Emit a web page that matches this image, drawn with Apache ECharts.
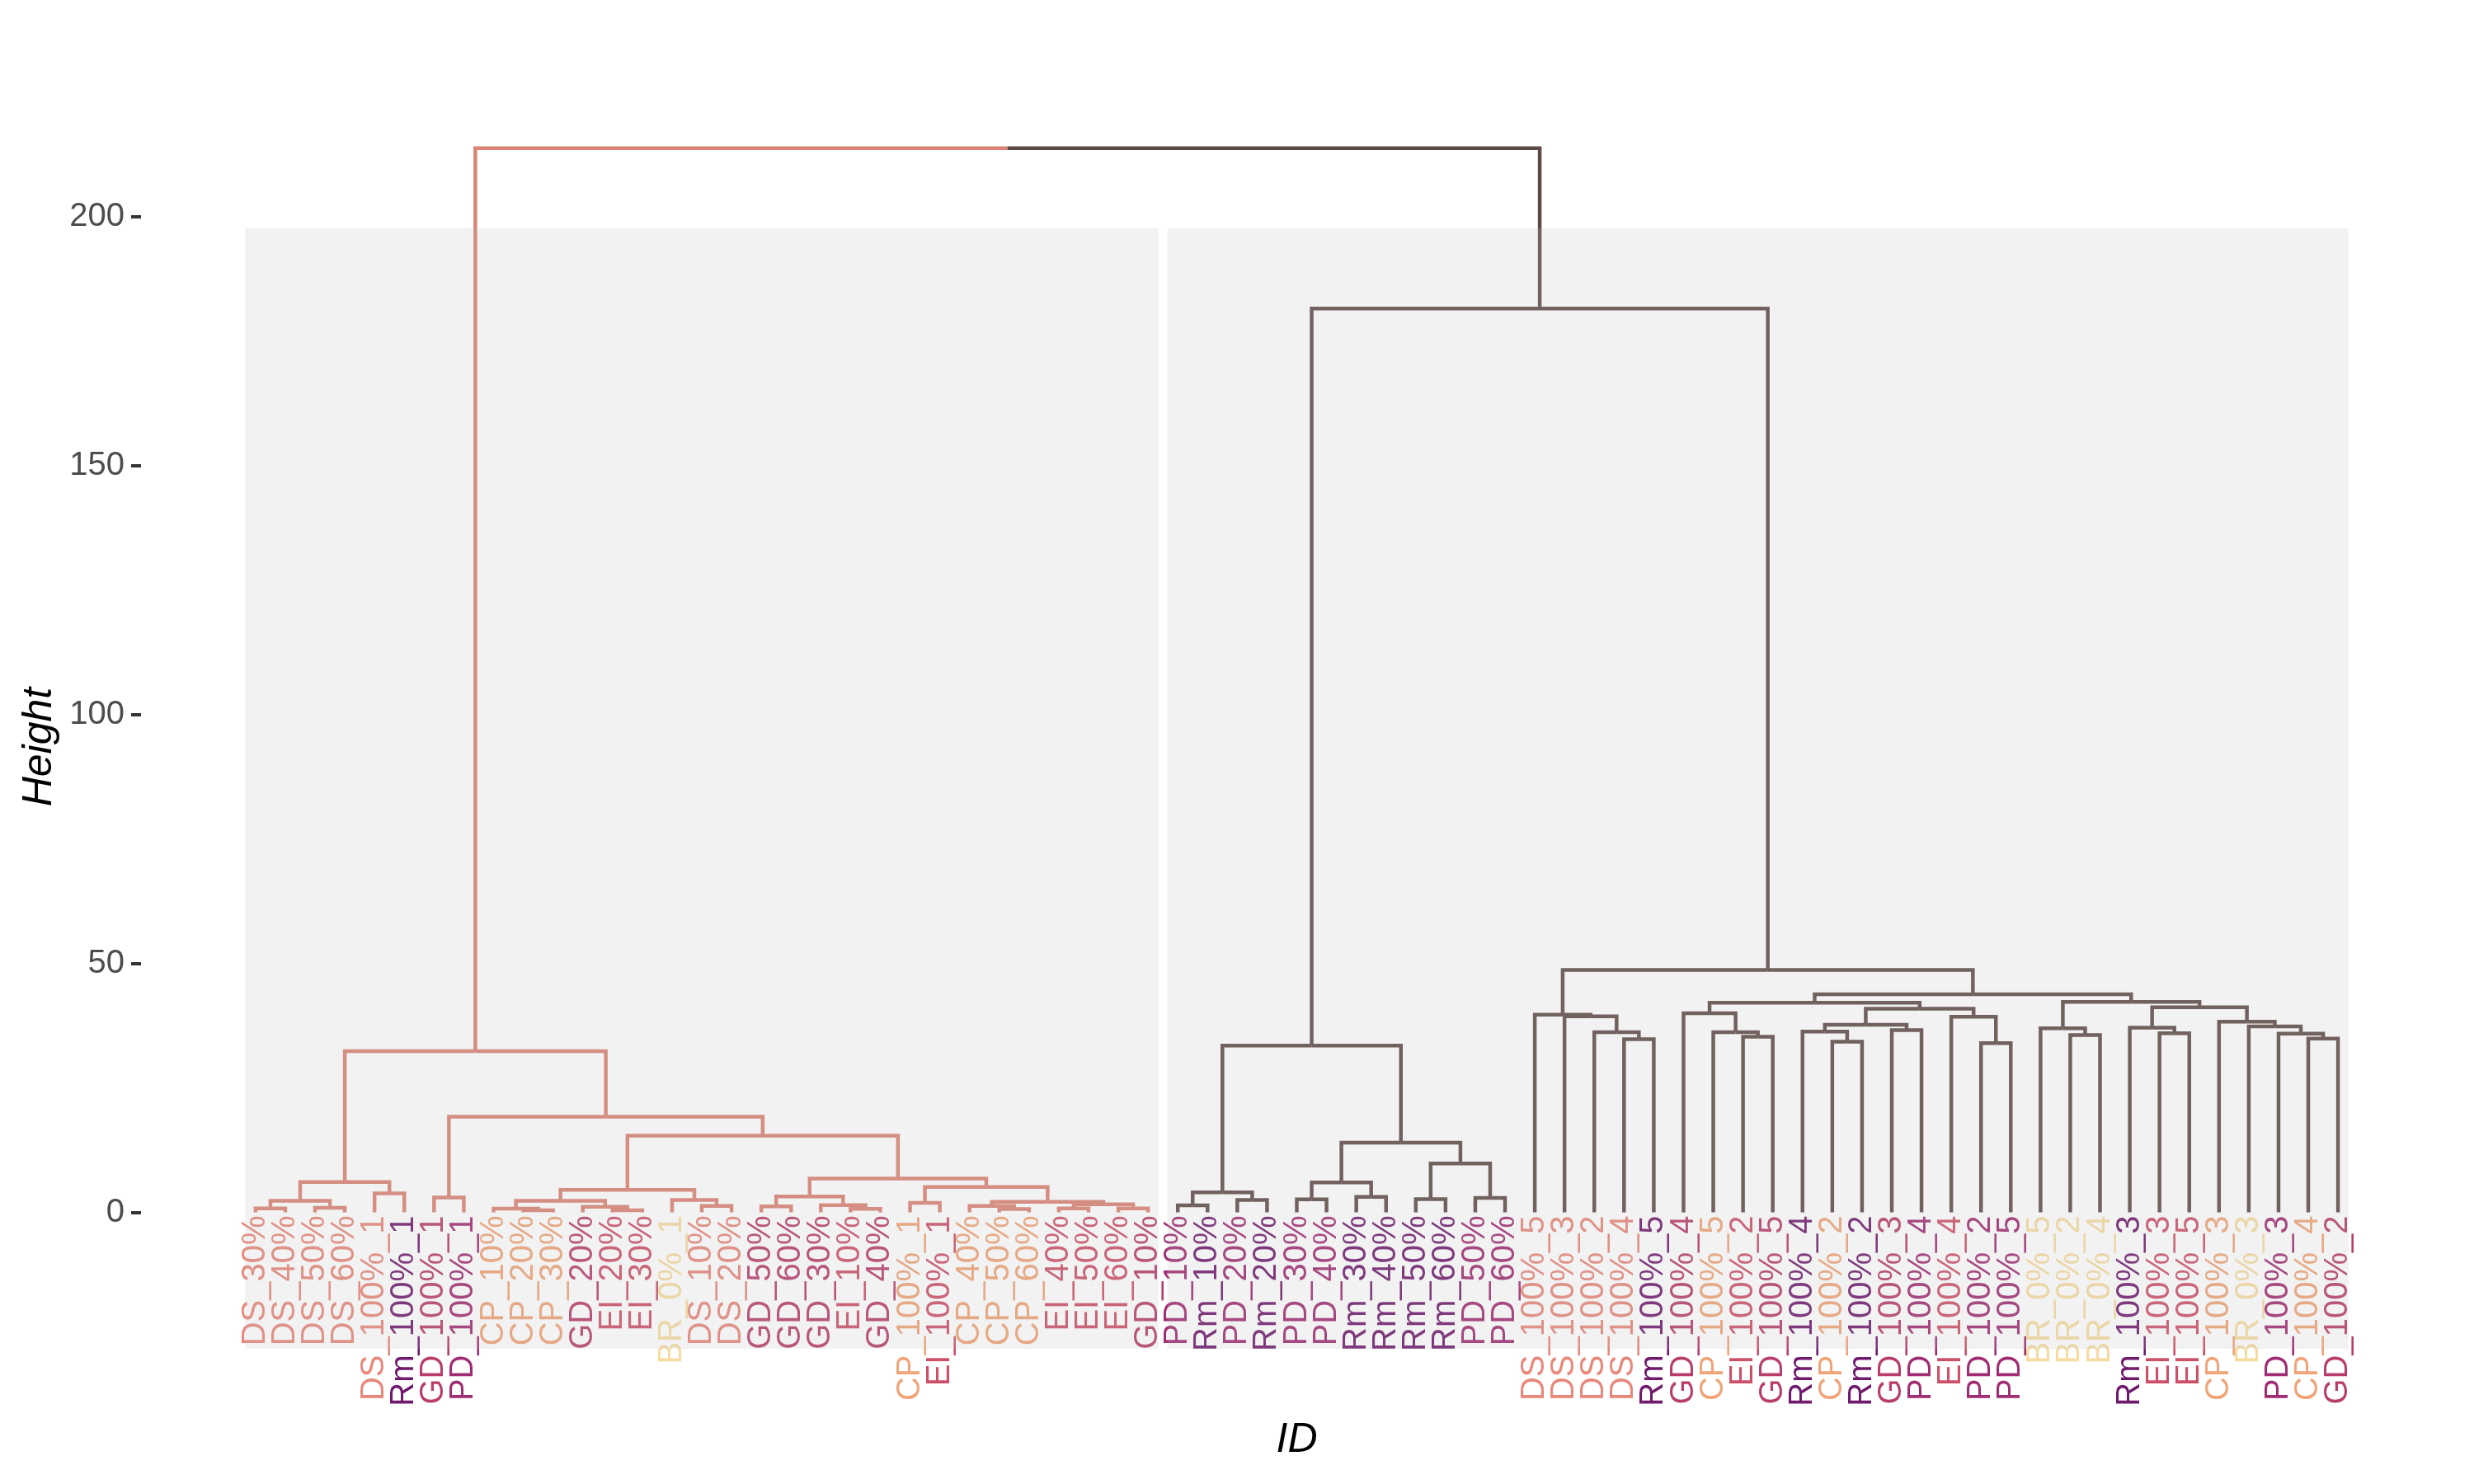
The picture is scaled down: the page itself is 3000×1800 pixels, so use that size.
<!DOCTYPE html>
<html><head><meta charset="utf-8">
<script src="https://cdn.jsdelivr.net/npm/echarts@6/dist/echarts.min.js"></script>
<style>html,body{margin:0;padding:0;background:#fff}#c{width:3000px;height:1800px}</style>
</head><body><div id="c"></div>
<script>
// ---- data ----
const leafLabels = [
'DS_30%','DS_40%','DS_50%','DS_60%','DS_100%_1','Rm_100%_1','GD_100%_1','PD_100%_1',
'CP_10%','CP_20%','CP_30%','GD_20%','EI_20%','EI_30%','BR_0%_1','DS_10%','DS_20%',
'GD_50%','GD_60%','GD_30%','EI_10%','GD_40%','CP_100%_1','EI_100%_1','CP_40%','CP_50%','CP_60%',
'EI_40%','EI_50%','EI_60%','GD_10%',
'PD_10%','Rm_10%','PD_20%','Rm_20%','PD_30%','PD_40%','Rm_30%','Rm_40%','Rm_50%','Rm_60%','PD_50%','PD_60%',
'DS_100%_5','DS_100%_3','DS_100%_2','DS_100%_4','Rm_100%_5','GD_100%_4','CP_100%_5','EI_100%_2','GD_100%_5',
'Rm_100%_4','CP_100%_2','Rm_100%_2','GD_100%_3','PD_100%_4','EI_100%_4','PD_100%_2','PD_100%_5',
'BR_0%_5','BR_0%_2','BR_0%_4','Rm_100%_3','EI_100%_3','EI_100%_5','CP_100%_3','BR_0%_3','PD_100%_3','CP_100%_4','GD_100%_2'];

const groupNames = ['BR','CP','DS','EI','GD','PD','Rm'];
const groupColors = ['#F6DCA0','#F0A478','#E8877A','#CD5068','#B83D6C','#A02C72','#6F1A6C'];

// tree nodes: [left, right, height]; numbers are leaf indices
const leftCluster = [
  [[[0,1,0.8],[2,3,0.9],2.3],[4,5,3.8],6.1],
  [[6,7,3.0],
   [[[[8,[9,10,0.4],0.75],[11,[12,13,0.4],1.1],2.3],[14,[15,16,1.3],2.5],4.5],
    [[[17,18,1.2],[19,[20,21,0.7],1.45],3.2],
     [[22,23,1.9],[[24,[25,26,0.65],1.3],[[27,28,0.8],[29,30,0.8],1.6],2.1],5.1],6.8],15.4],19.2],
  32.4];

const middleGroup = [
  [[31,32,1.4],[33,34,2.5],4.0],
  [[[35,36,2.6],[37,38,3.1],6.0],[[39,40,2.65],[41,42,2.9],9.8],14.0],
  33.5];

const rightGroup = [
  [43,[44,[45,[46,47,34.8],36.2],39.4],39.7],
  [[[48,[49,[50,51,35.3],36.2],40.0],
    [[[52,[53,54,34.3],36.3],[55,56,36.6],37.7],[57,[58,59,34.0],39.3],40.9],42.1],
   [[60,[61,62,35.6],37.0],
    [[63,[64,65,36.0],37.1],[66,[67,[68,[69,70,34.9],35.9],37.35],38.3],41.2],42.3],
   43.8],
  48.7];

const rightClusterHeight = 181.6;
const rootHeight = 213.8;
const clusterLeafRanges = [[0,30],[31,70]];
const rectBottom = -27.4;
const yTicks = [0,50,100,150,200];

// ---- build ----
const FONT = '"Liberation Sans", Arial, Helvetica, sans-serif';
const branchColors = ['#DA8374','#5E4B48'];
const root = [leftCluster, [middleGroup, rightGroup, rightClusterHeight], rootHeight];
const segs = [];
function layout(node, color) {
  if (typeof node === 'number') return {x: node, h: 0};
  const a = layout(node[0], color), b = layout(node[1], color);
  const x = (a.x + b.x) / 2, h = node[2];
  segs.push({coords: [[a.x, a.h], [a.x, h], [x, h]], color});
  segs.push({coords: [[b.x, b.h], [b.x, h], [x, h]], color});
  return {x, h};
}
(function () {
  const a = layout(root[0], branchColors[0]);
  const b = layout(root[1], branchColors[1]);
  const x = (a.x + b.x) / 2, h = root[2];
  segs.push({coords: [[a.x, a.h], [a.x, h], [x, h]], color: branchColors[0]});
  segs.push({coords: [[b.x, b.h], [b.x, h], [x, h]], color: branchColors[1]});
})();
const rectTop = (rightClusterHeight + rootHeight) / 2;
function groupColor(lbl) { return groupColors[groupNames.indexOf(lbl.split('_')[0])]; }

const chart = echarts.init(document.getElementById('c'), null, {renderer: 'canvas'});
chart.setOption({
  animation: false,
  backgroundColor: '#ffffff',
  grid: {left: 171, right: 26, top: 112.2, bottom: 100.1, containLabel: false, outerBoundsMode: 'none'},
  xAxis: {
    type: 'value', min: -3.85, max: 73.85,
    axisLine: {show: false, onZero: false}, axisTick: {show: false}, axisLabel: {show: false}, splitLine: {show: false},
    name: 'ID', nameLocation: 'middle', nameGap: 22,
    nameTextStyle: {fontSize: 50, fontStyle: 'italic', color: '#000', fontFamily: FONT}
  },
  yAxis: {
    type: 'value', min: -38, max: 225,
    axisLine: {show: false, onZero: false},
    axisTick: {show: true, length: 12, customValues: yTicks, lineStyle: {color: '#333333', width: 4}},
    axisLabel: {customValues: yTicks, color: '#4D4D4D', fontSize: 40, fontFamily: FONT, margin: 20},
    splitLine: {show: false},
    name: 'Height', nameLocation: 'middle', nameRotate: 90, nameGap: 96,
    nameTextStyle: {fontSize: 50, fontStyle: 'italic', color: '#000', fontFamily: FONT}
  },
  series: [
    {
      type: 'lines', coordinateSystem: 'cartesian2d', polyline: true, silent: true, z: 2,
      lineStyle: {width: 4.5, opacity: 1, cap: 'butt', join: 'miter'},
      data: segs.map(s => ({coords: s.coords, lineStyle: {color: s.color}}))
    },
    {
      type: 'custom', silent: true, z: 3,
      data: leafLabels.map((l, i) => [i, 0]),
      renderItem: function (params, api) {
        const i = params.dataIndex;
        const p = api.coord([api.value(0), api.value(1)]);
        return {
          type: 'text', x: p[0], y: p[1] + 4, rotation: Math.PI / 2,
          style: {
            text: leafLabels[i], x: 0, y: 0, fill: groupColor(leafLabels[i]),
            font: '40px ' + FONT,
            align: 'right', verticalAlign: 'middle', textAlign: 'right', textVerticalAlign: 'middle'
          }
        };
      }
    },
    {
      type: 'custom', silent: true, z: 10,
      data: clusterLeafRanges,
      renderItem: function (params, api) {
        const p0 = api.coord([api.value(0) - 0.35, rectTop]);
        const p1 = api.coord([api.value(1) + 0.35, rectBottom]);
        return {
          type: 'rect',
          shape: {x: p0[0], y: p0[1], width: p1[0] - p0[0], height: p1[1] - p0[1]},
          style: {fill: 'rgba(190,190,190,0.2)'}
        };
      }
    }
  ]
});
</script></body></html>
